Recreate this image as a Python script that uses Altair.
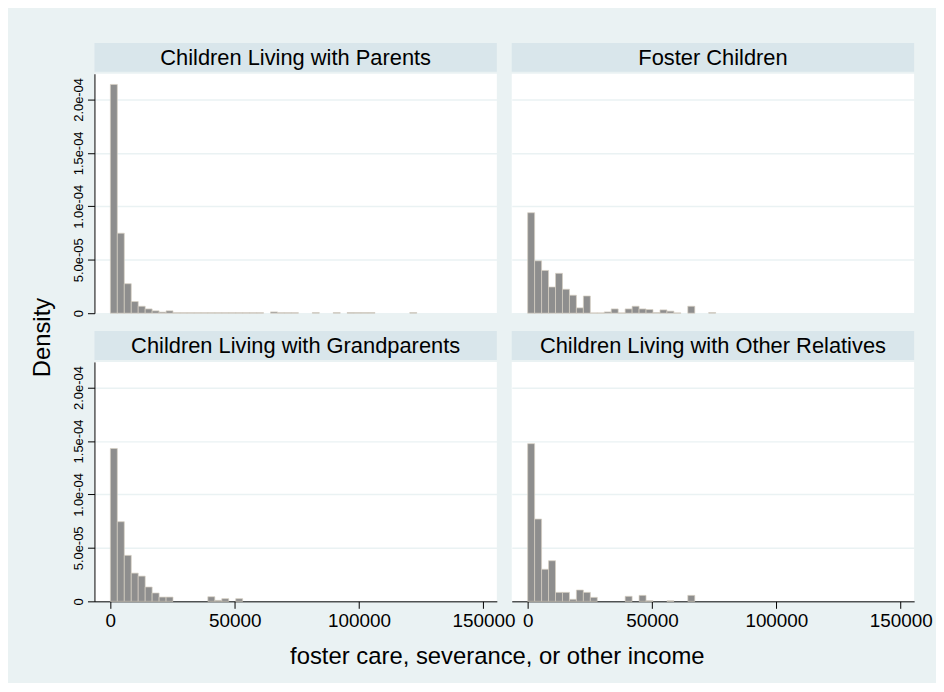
import altair as alt
import pandas as pd

# ---- data (density per bin, bins of width 2800 starting at 0) ----
BIN_WIDTH = 2800

panel_names = [
    "Children Living with Parents",
    "Foster Children",
    "Children Living with Grandparents",
    "Children Living with Other Relatives",
]

parents = [2.14e-4, 7.48e-5, 2.76e-5, 1.09e-5, 6.5e-6, 4.0e-6, 2.2e-6, 1.0e-6, 2.2e-6,
           0.5e-6, 0.5e-6, 0.5e-6, 0.5e-6, 0.5e-6, 0.5e-6, 0.5e-6, 0.5e-6, 0.5e-6,
           0.5e-6, 0.5e-6, 0.5e-6, 0.5e-6, 0, 1.2e-6, 0.5e-6, 0.5e-6, 0.5e-6, 0, 0,
           0.6e-6, 0, 0, 0.6e-6, 0, 0.6e-6, 0.6e-6, 0.6e-6, 0.6e-6, 0, 0, 0, 0, 0, 0.6e-6]

foster = [9.4e-5, 4.9e-5, 4.0e-5, 2.45e-5, 3.73e-5, 2.24e-5, 1.68e-5, 5.0e-6, 1.61e-5,
          0.3e-6, 0.3e-6, 1.2e-6, 4.0e-6, 0.3e-6, 4.0e-6, 6.5e-6, 4.0e-6, 3.4e-6,
          0.6e-6, 3.1e-6, 1.9e-6, 0.3e-6, 0, 6.5e-6, 0, 0, 0.6e-6]

grandparents = [1.43e-4, 7.45e-5, 4.3e-5, 2.64e-5, 2.36e-5, 1.34e-5, 7.8e-6, 4.0e-6, 4.0e-6,
                0, 0, 0, 0, 0, 4.3e-6, 0.9e-6, 2.5e-6, 0, 2.5e-6]

other_relatives = [1.475e-4, 7.7e-5, 3.0e-5, 3.8e-5, 8.4e-6, 8.4e-6, 1.9e-6, 1.06e-5, 8.4e-6,
                   3.7e-6, 0, 0, 0, 0, 4.7e-6, 0, 5.6e-6, 0.6e-6, 0, 0, 0.5e-6, 0, 0, 5.6e-6]

y_ticks = [0, 5e-5, 1e-4, 1.5e-4, 2e-4]
x_ticks = [0, 50000, 100000, 150000]
y_title = "Density"
x_title = "foster care, severance, or other income"

series = dict(zip(panel_names, [parents, foster, grandparents, other_relatives]))
rows = []
for name, vals in series.items():
    for i, v in enumerate(vals):
        if v > 0:
            rows.append({"panel": name, "start": i * BIN_WIDTH,
                         "end": (i + 1) * BIN_WIDTH, "density": v})
df = pd.DataFrame(rows)

# ---- style ----
FONT = "Liberation Sans"
W, H, SH = 405, 241, 29
COL_GAP, ROW_GAP, STRIP_GAP = 15, 18, 2
BG = "#EAF2F3"
STRIP = "#D9E6EB"
X_DOM = [-6400, 155400]
Y_DOM = [0, 2.24e-4]

y_label_expr = ("datum.value == 0 ? '0' : (datum.value < 0.0000999 ? "
                "format(datum.value*100000, '.1f') + 'e-05' : "
                "format(datum.value*10000, '.1f') + 'e-04')")


def panel(name, left, bottom):
    if left:
        yaxis = alt.Axis(values=y_ticks, grid=True, gridColor=BG, gridWidth=1.5,
                         title=None, labelAngle=270, labelAlign="center",
                         labelBaseline="bottom", labelFontSize=13, labelFont=FONT,
                         labelColor="black", labelExpr=y_label_expr, tickSize=7,
                         tickColor="black", domainColor="black", labelPadding=2)
    else:
        yaxis = alt.Axis(values=y_ticks, grid=True, gridColor=BG, gridWidth=1.5,
                         title=None, labels=False, ticks=False, domain=False)
    if bottom:
        xaxis = alt.Axis(values=x_ticks, grid=False, title=None, labelFontSize=19,
                         labelFont=FONT, labelColor="black", tickSize=7,
                         tickColor="black", domainColor="black", labelPadding=3,
                         labelAngle=0, format="d", labelFlush=False, labelOverlap=False)
    else:
        xaxis = None

    hist = (
        alt.Chart(df)
        .transform_filter(alt.datum.panel == name)
        .mark_rect(fill="#8E8E8E", stroke="#D6D0C2", strokeWidth=0.7)
        .encode(
            x=alt.X("start:Q", scale=alt.Scale(domain=X_DOM, nice=False, zero=False), axis=xaxis),
            x2="end:Q",
            y=alt.Y("density:Q", scale=alt.Scale(domain=Y_DOM, nice=False), axis=yaxis),
            y2=alt.datum(0),
        )
    )
    lab = pd.DataFrame({"label": [name]})
    strip_rect = alt.Chart(lab).mark_rect(fill=STRIP, strokeWidth=0).encode(
        x=alt.value(0), x2=alt.value(W),
        y=alt.value(-(SH + STRIP_GAP)), y2=alt.value(-STRIP_GAP),
    )
    strip_text = alt.Chart(lab).mark_text(font=FONT, fontSize=22, color="black").encode(
        text="label:N", x=alt.value(W / 2), y=alt.value(-(SH / 2 + STRIP_GAP) + 1),
    )
    layers = [strip_rect, strip_text, hist]
    if left and bottom:
        ytxt = alt.Chart(pd.DataFrame({"t": [y_title]})).mark_text(
            font=FONT, fontSize=24, color="black", angle=270).encode(
            text="t:N", x=alt.value(-52), y=alt.value(-(ROW_GAP + SH + STRIP_GAP) / 2))
        xtxt = alt.Chart(pd.DataFrame({"t": [x_title]})).mark_text(
            font=FONT, fontSize=24, color="black").encode(
            text="t:N", x=alt.value(W + COL_GAP / 2 - 7), y=alt.value(H + 56))
        layers += [ytxt, xtxt]
    return alt.layer(*layers).properties(
        width=W, height=H, view=alt.ViewBackground(fill="white", strokeWidth=0))


chart = alt.concat(
    panel(panel_names[0], True, False),
    panel(panel_names[1], False, False),
    panel(panel_names[2], True, True),
    panel(panel_names[3], False, True),
    columns=2,
    spacing={"row": ROW_GAP + SH + STRIP_GAP, "column": COL_GAP},
    bounds="flush",
).configure(background=BG, padding={"left": 23, "top": 33, "right": 3, "bottom": 12})

chart.save("out.html", embed_options={"renderer": "svg", "actions": False})
